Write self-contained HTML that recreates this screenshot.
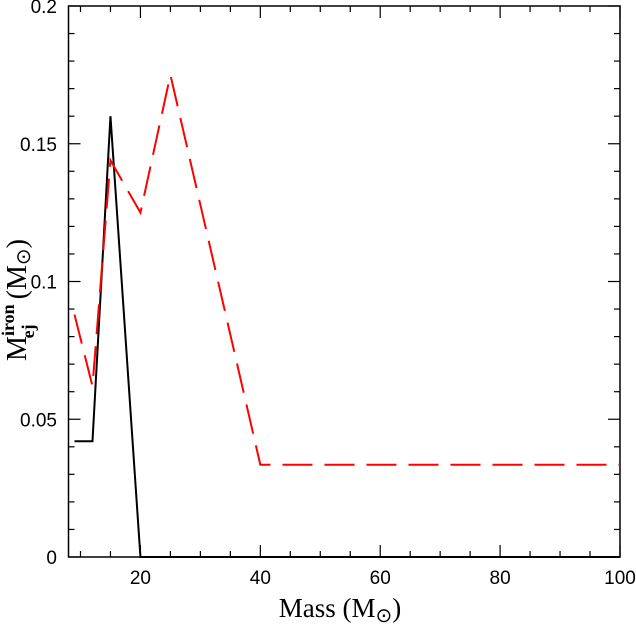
<!DOCTYPE html>
<html><head><meta charset="utf-8"><style>body{margin:0;background:#fff}svg{display:block}text{font-family:"Liberation Serif",serif;fill:#000}.tk{font-family:"Liberation Sans",sans-serif}</style></head>
<body>
<svg id="c" width="636" height="627"></svg>
<script>
const masses=[9,12,15,20,25,30,40,60,80,100];
const blackVals=[0.042,0.042,0.16,0,0,0,0,0,0,0];
const redMasses=[9,12,15,20,25,40,100];
const redVals=[0.088,0.062,0.144,0.125,0.175,0.0335,0.0335];
const xTicks=[20,40,60,80,100];
const yTicks=[0,0.05,0.1,0.15,0.2];
const yTickLabels=["0","0.05","0.1","0.15","0.2"];
const X0=68.5,X1=620,Y0=557,Y1=6,xmin=8,xmax=100,ymin=0,ymax=0.2;
const sx=v=>X0+(v-xmin)/(xmax-xmin)*(X1-X0);
const sy=v=>Y0-(v-ymin)/(ymax-ymin)*(Y0-Y1);
const svg=document.getElementById('c');const NS='http://www.w3.org/2000/svg';
function mk(t,a,p){const e=document.createElementNS(NS,t);for(const k in a)e.setAttribute(k,a[k]);(p||svg).appendChild(e);return e;}
const frame=mk('rect',{x:X0,y:Y1,width:X1-X0,height:Y0-Y1,fill:'none',stroke:'#000','stroke-width':1.5});


for(let v=10;v<=100;v+=5){const maj=v%20===0;const L=maj?12:6;const x=sx(v);
 mk('line',{x1:x,y1:Y0,x2:x,y2:Y0-L,stroke:'#000','stroke-width':1.2});
 mk('line',{x1:x,y1:Y1,x2:x,y2:Y1+L,stroke:'#000','stroke-width':1.2});}
for(let i=0;i<=20;i++){const v=i*0.01;const maj=i%5===0;const L=maj?12:6;const y=sy(v);
 mk('line',{x1:X0,y1:y,x2:X0+L,y2:y,stroke:'#000','stroke-width':1.2});
 mk('line',{x1:X1,y1:y,x2:X1-L,y2:y,stroke:'#000','stroke-width':1.2});}
xTicks.forEach(v=>{const t=mk('text',{x:sx(v),y:584,'text-anchor':'middle','font-size':19,'class':'tk'});t.textContent=v;
 
 });
yTicks.forEach((v,i)=>{const t=mk('text',{x:57,y:sy(v)+7,'text-anchor':'end','font-size':19,'class':'tk'});t.textContent=yTickLabels[i];
 
 });
const bl=mk('polyline',{points:masses.map((m,i)=>sx(m)+','+sy(blackVals[i])).join(' '),fill:'none',stroke:'#000','stroke-width':2});


const rl=mk('polyline',{points:redMasses.map((m,i)=>sx(m)+','+sy(redVals[i])).join(' '),fill:'none',stroke:'#f00','stroke-width':2,'stroke-dasharray':'30,12'});


</script>
<svg style="position:absolute;left:0;top:0" width="636" height="627">
<text x="340" y="617" text-anchor="middle" font-size="27">Mass (M<tspan font-size="20" dy="5">⊙</tspan><tspan dy="-5">)</tspan></text>
<g transform="translate(26,300) rotate(-90)">
<text x="0" y="0" text-anchor="middle" font-size="28">M<tspan font-size="18" font-weight="bold" dy="-12">iron</tspan><tspan font-size="18" font-weight="bold" dx="-34" dy="20">ej</tspan><tspan dx="18" dy="-8"> (M</tspan><tspan font-size="20" dy="4">⊙</tspan><tspan dy="-4">)</tspan></text></g>
</svg>
</body></html>
